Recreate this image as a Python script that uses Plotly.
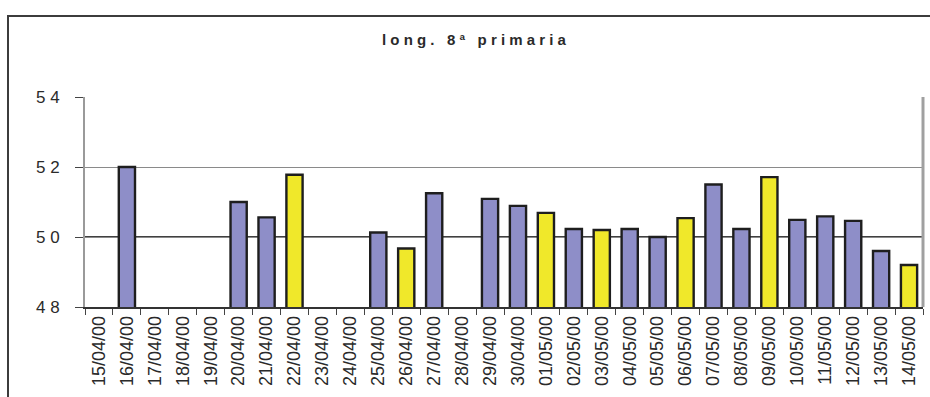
import plotly.graph_objects as go

# Daily readings, 15/04/00 - 14/05/00 (None = no reading that day)
dates = [
    "15/04/00", "16/04/00", "17/04/00", "18/04/00", "19/04/00", "20/04/00",
    "21/04/00", "22/04/00", "23/04/00", "24/04/00", "25/04/00", "26/04/00",
    "27/04/00", "28/04/00", "29/04/00", "30/04/00", "01/05/00", "02/05/00",
    "03/05/00", "04/05/00", "05/05/00", "06/05/00", "07/05/00", "08/05/00",
    "09/05/00", "10/05/00", "11/05/00", "12/05/00", "13/05/00", "14/05/00",
]
values = [
    None, 52.0, None, None, None, 51.0,
    50.56, 51.78, None, None, 50.13, 49.67,
    51.25, None, 51.09, 50.89, 50.69, 50.23,
    50.2, 50.23, 50.0, 50.54, 51.5, 50.23,
    51.71, 50.49, 50.59, 50.46, 49.6, 49.2,
]
# days drawn in the highlight colour
highlighted = [
    False, False, False, False, False, False,
    False, True, False, False, False, True,
    False, False, False, False, True, False,
    True, False, False, True, False, False,
    True, False, False, False, False, True,
]
y_ticks = [48, 50, 52, 54]
reference_level = 50
title_text = "long. 8ª primaria"

BLUE = "#8E8EC8"
YELLOW = "#F0E82A"
INK = "#2a2a2a"


def spaced(s):
    """Excel-style letter spacing: one space between characters."""
    return " ".join(s)


bar_colors = [YELLOW if h else BLUE for h in highlighted]

fig = go.Figure()
fig.add_trace(go.Bar(
    x=dates,
    y=values,
    marker=dict(color=bar_colors, line=dict(color="#1e1e1e", width=2.4)),
    width=0.58,
    showlegend=False,
))

fig.update_layout(
    width=930,
    height=397,
    margin=dict(l=85, r=7, t=97, b=90),
    paper_bgcolor="white",
    plot_bgcolor="white",
    font=dict(family="Liberation Sans, Arial, sans-serif", color=INK),
    title=dict(
        text="<b>" + spaced(title_text) + "</b>",
        font=dict(size=15, color=INK),
        xref="container", x=474 / 930, xanchor="center",
        yref="container", y=1 - 40 / 397, yanchor="middle",
    ),
)

fig.update_xaxes(
    type="category",
    tickangle=-90,
    tickfont=dict(size=18, color=INK),
    ticks="outside",
    tickson="boundaries",
    ticklen=6,
    tickcolor="#444444",
    showline=True,
    linecolor="#333333",
    linewidth=1.5,
    showgrid=False,
)
fig.update_yaxes(
    range=[48, 54],
    tickvals=y_ticks,
    ticktext=[spaced(str(v)) for v in y_ticks],
    tickfont=dict(size=17, color=INK),
    ticks="outside",
    ticklen=8,
    tickcolor="#444444",
    ticklabelstandoff=12,
    showline=True,
    linecolor="#9a9a9a",
    linewidth=2,
    showgrid=True,
    gridcolor="#8a8a8a",
    gridwidth=1,
    zeroline=False,
)

# darker reference line across the plot, above the grid but under the bars
fig.add_shape(type="line", xref="paper", x0=0, x1=1, yref="y",
              y0=reference_level, y1=reference_level,
              line=dict(color="#000000", width=1.5), layer="between")
# right edge of the plot area
fig.add_shape(type="line", xref="paper", x0=1, x1=1, yref="paper", y0=0, y1=1,
              line=dict(color="#a0a0a0", width=3))
# outer chart frame
fig.add_shape(type="rect", xref="paper", yref="paper",
              x0=(8 - 85) / 838, x1=1.2, y0=-1, y1=(307 - 16) / 210,
              line=dict(color="#3c3c3c", width=2), fillcolor="rgba(0,0,0,0)",
              layer="above")

fig.write_html("out.html")
